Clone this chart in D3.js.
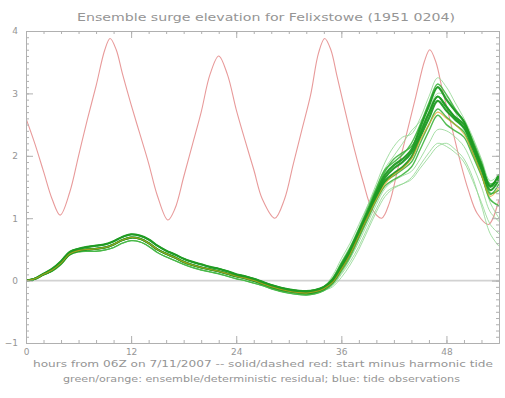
<!DOCTYPE html>
<html><head><meta charset="utf-8">
<script src="https://cdn.jsdelivr.net/npm/d3@7/dist/d3.min.js"></script>
<style>html,body{margin:0;padding:0;background:#fff}svg{display:block}</style>
</head><body>
<svg id="c" width="505" height="398"></svg>
<script>
// ---------- data ----------
const titleText = "Ensemble surge elevation for Felixstowe (1951 0204)";
const subtitle1 = "hours from 06Z on 7/11/2007  --  solid/dashed red: start minus harmonic tide";
const subtitle2 = "green/orange: ensemble/deterministic residual; blue: tide observations";
const xTicks = [0, 12, 24, 36, 48];
const yTicks = [-1, 0, 1, 2, 3, 4];

// harmonic tide (hours, metres)
const tideHours  = [0,1,2,3,3.9,5,6,7,8,9,9.6,10.3,11,12,13,14,15,16.2,17,18,19,20,21,22,23,24,25,26,27,28.4,29.5,30.5,31.5,32.5,33.4,34.1,34.8,35.5,36.5,37.5,38.5,39.5,40.6,41.5,42.5,43.5,44.5,45.5,46.1,46.8,47.5,48.5,49.5,50.5,51.5,52.8,54];
const tideValues = [2.6,2.2,1.75,1.3,1.05,1.42,2.0,2.58,3.12,3.7,3.88,3.7,3.32,2.82,2.35,1.88,1.36,0.97,1.15,1.66,2.18,2.7,3.3,3.6,3.3,2.74,2.25,1.78,1.3,1.0,1.3,1.86,2.42,2.98,3.65,3.88,3.7,3.28,2.68,2.1,1.58,1.15,1.0,1.25,1.82,2.38,2.95,3.52,3.7,3.5,3.08,2.52,1.95,1.45,1.08,0.9,1.3];

// early common part of ensemble, hourly 0..34
const earlyUpper = [0.0,0.03,0.11,0.19,0.31,0.46,0.51,0.54,0.56,0.58,0.63,0.7,0.74,0.72,0.66,0.56,0.48,0.42,0.35,0.3,0.26,0.22,0.19,0.15,0.1,0.07,0.03,-0.02,-0.07,-0.11,-0.14,-0.16,-0.17,-0.15,-0.1];
const earlyMid   = [0.0,0.03,0.1,0.17,0.28,0.43,0.48,0.5,0.51,0.53,0.58,0.65,0.69,0.67,0.6,0.5,0.43,0.37,0.3,0.25,0.21,0.18,0.15,0.11,0.07,0.04,0.0,-0.05,-0.1,-0.14,-0.17,-0.19,-0.2,-0.18,-0.13];
const earlyLower = [0.0,0.02,0.09,0.15,0.26,0.41,0.46,0.47,0.47,0.49,0.53,0.6,0.64,0.62,0.55,0.45,0.38,0.32,0.26,0.21,0.17,0.14,0.11,0.07,0.03,0.0,-0.04,-0.08,-0.13,-0.17,-0.2,-0.22,-0.23,-0.21,-0.16];

// late divergent part per member, hourly 35..54
const m01 = [-0.02,0.2,0.45,0.75,1.05,1.35,1.6,1.72,1.82,1.98,2.3,2.6,2.88,2.72,2.58,2.45,2.12,1.78,1.45,1.62];
const m02 = [0.02,0.25,0.5,0.8,1.1,1.42,1.7,1.85,1.95,2.1,2.45,2.8,3.1,2.9,2.72,2.55,2.2,1.85,1.5,1.7];
const m03 = [-0.05,0.15,0.38,0.68,0.98,1.28,1.52,1.62,1.7,1.82,2.1,2.4,2.65,2.5,2.4,2.3,2.0,1.68,1.38,1.55];
const m04 = [0.05,0.3,0.55,0.85,1.2,1.55,1.9,2.15,2.3,2.35,2.6,2.95,3.25,3.1,2.85,2.6,2.3,1.95,1.6,1.7];
const m05 = [-0.08,0.1,0.3,0.55,0.85,1.15,1.4,1.5,1.55,1.65,1.85,2.05,2.2,2.15,2.05,1.9,1.6,1.25,0.9,0.75];
const m06 = [0.0,0.22,0.48,0.78,1.1,1.45,1.75,1.95,2.05,2.15,2.4,2.7,2.95,2.8,2.6,2.45,2.15,1.8,1.4,1.45];
const m07 = [-0.03,0.18,0.42,0.72,1.02,1.32,1.58,1.68,1.78,1.9,2.2,2.5,2.75,2.62,2.5,2.38,2.05,1.7,1.3,1.2];
const m08 = [-0.1,0.05,0.25,0.5,0.8,1.1,1.35,1.48,1.55,1.62,1.8,1.98,2.15,2.2,2.1,1.95,1.65,1.2,0.75,0.55];
const m09 = [0.08,0.35,0.6,0.9,1.2,1.5,1.8,2.0,2.2,2.4,2.55,2.75,3.0,2.95,2.7,2.4,2.1,1.7,1.25,1.0];
const m10 = [-0.02,0.2,0.44,0.74,1.05,1.38,1.65,1.8,1.9,2.05,2.35,2.68,2.95,2.78,2.62,2.5,2.18,1.82,1.52,1.68];
const m11 = [-0.06,0.12,0.35,0.62,0.92,1.22,1.48,1.6,1.68,1.75,1.95,2.2,2.42,2.4,2.3,2.15,1.85,1.5,1.1,0.95];
const m12 = [0.03,0.28,0.52,0.82,1.15,1.48,1.78,1.9,2.02,2.2,2.5,2.85,3.15,2.98,2.75,2.55,2.25,1.9,1.55,1.65];
const detLate = [-0.03,0.18,0.42,0.72,1.02,1.3,1.55,1.7,1.8,1.95,2.25,2.5,2.7,2.6,2.5,2.35,2.05,1.7,1.35,1.5];

// member table: early variant, late values, shade class
const members = [
  {early: earlyLower, late: m08, shade: "light"},
  {early: earlyLower, late: m05, shade: "light"},
  {early: earlyUpper, late: m09, shade: "light"},
  {early: earlyUpper, late: m04, shade: "light"},
  {early: earlyLower, late: m11, shade: "light"},
  {early: earlyMid,   late: m07, shade: "mid"},
  {early: earlyUpper, late: m06, shade: "mid"},
  {early: earlyLower, late: m03, shade: "mid"},
  {early: earlyUpper, late: m12, shade: "mid"},
  {early: earlyMid,   late: m10, shade: "dark"},
  {early: earlyUpper, late: m02, shade: "dark"},
  {early: earlyMid,   late: m01, shade: "dark"}
];

// ---------- drawing ----------
const svg = d3.select("#c");
const W = 505, H = 398;
const m = {left: 26, right: 6, top: 31, bottom: 55};
const x = d3.scaleLinear().domain([0, 54]).range([m.left, W - m.right]);
const y = d3.scaleLinear().domain([-1, 4]).range([H - m.bottom, m.top]);

const axisCol = "#b0b0b0", textCol = "#959595";

svg.append("defs").append("clipPath").attr("id", "clip")
  .append("rect").attr("x", x(0)).attr("y", y(4)).attr("width", x(54) - x(0)).attr("height", y(-1) - y(4));

const plot = svg.append("g").attr("clip-path", "url(#clip)");

// zero line
plot.append("line").attr("x1", x(0)).attr("x2", x(54)).attr("y1", y(0)).attr("y2", y(0))
  .attr("stroke", "#d2d2d2").attr("stroke-width", 1.6);

const line = d3.line().x(d => x(d[0])).y(d => y(d[1])).curve(d3.curveCatmullRom.alpha(0.5));

// tide
plot.append("path").datum(tideHours.map((h, i) => [h, tideValues[i]]))
  .attr("d", line).attr("fill", "none").attr("stroke", "#e89a9a").attr("stroke-width", 1.1);

const toSeries = (early, late) => early.map((v, i) => [i, v]).concat(late.map((v, i) => [35 + i, v]));

const shadeStyle = {
  light: {c: "#8fd68f", w: 1, o: 0.8},
  mid:   {c: "#3fb53f", w: 1.4, o: 0.9},
  dark:  {c: "#1e9a22", w: 2.2, o: 0.95}
};

members.forEach(mb => {
  const s = shadeStyle[mb.shade];
  plot.append("path").datum(toSeries(mb.early, mb.late))
    .attr("d", line).attr("fill", "none").attr("stroke", s.c)
    .attr("stroke-width", s.w).attr("stroke-opacity", s.o);
});

// deterministic
plot.append("path").datum(toSeries(earlyMid, detLate))
  .attr("d", line).attr("fill", "none").attr("stroke", "#e0a020")
  .attr("stroke-width", 1.1).attr("stroke-opacity", 0.7);

// axes (box with inward ticks on all sides)
function styleAxis(g) {
  g.selectAll("path,line").attr("stroke", axisCol);
  g.selectAll("text").attr("fill", textCol).attr("font-family", "DejaVu Sans, sans-serif").attr("font-size", 9);
}
const xMinor = d3.range(0, 55, 2);
const yMinor = d3.range(-1, 4.001, 0.1).map(v => +v.toFixed(2));

svg.append("g").attr("transform", `translate(0,${y(-1)})`)
  .call(d3.axisBottom(x).tickValues(xMinor).tickSize(-3).tickFormat("").tickSizeOuter(0)).call(styleAxis);
svg.append("g").attr("transform", `translate(0,${y(-1)})`)
  .call(d3.axisBottom(x).tickValues(xTicks).tickSize(-7).tickPadding(6).tickFormat(d3.format("d")).tickSizeOuter(0)).call(styleAxis);
svg.append("g").attr("transform", `translate(0,${y(4)})`)
  .call(d3.axisTop(x).tickValues(xMinor).tickSize(-3).tickFormat("").tickSizeOuter(0)).call(styleAxis);
svg.append("g").attr("transform", `translate(0,${y(4)})`)
  .call(d3.axisTop(x).tickValues(xTicks).tickSize(-7).tickFormat("").tickSizeOuter(0)).call(styleAxis);

svg.append("g").attr("transform", `translate(${x(0)},0)`)
  .call(d3.axisLeft(y).tickValues(yMinor).tickSize(-3).tickFormat("").tickSizeOuter(0)).call(styleAxis);
svg.append("g").attr("transform", `translate(${x(0)},0)`)
  .call(d3.axisLeft(y).tickValues(yTicks).tickSize(-7).tickPadding(8).tickFormat(d3.format("d")).tickSizeOuter(0)).call(styleAxis);
svg.append("g").attr("transform", `translate(${x(54)},0)`)
  .call(d3.axisRight(y).tickValues(yMinor).tickSize(-3).tickFormat("").tickSizeOuter(0)).call(styleAxis);
svg.append("g").attr("transform", `translate(${x(54)},0)`)
  .call(d3.axisRight(y).tickValues(yTicks).tickSize(-7).tickFormat("").tickSizeOuter(0)).call(styleAxis);

// texts
const tf = "DejaVu Sans, sans-serif";
svg.append("text").text(titleText).attr("x", 77).attr("y", 21)
  .attr("textLength", 378).attr("lengthAdjust", "spacingAndGlyphs")
  .attr("font-family", tf).attr("font-size", 11).attr("fill", textCol);
svg.append("text").text(subtitle1).attr("x", 33).attr("y", 367)
  .attr("textLength", 460).attr("lengthAdjust", "spacingAndGlyphs")
  .attr("font-family", tf).attr("font-size", 8.5).attr("fill", textCol);
svg.append("text").text(subtitle2).attr("x", 63).attr("y", 382)
  .attr("textLength", 397).attr("lengthAdjust", "spacingAndGlyphs")
  .attr("font-family", tf).attr("font-size", 8.5).attr("fill", textCol);
</script>
</body></html>
